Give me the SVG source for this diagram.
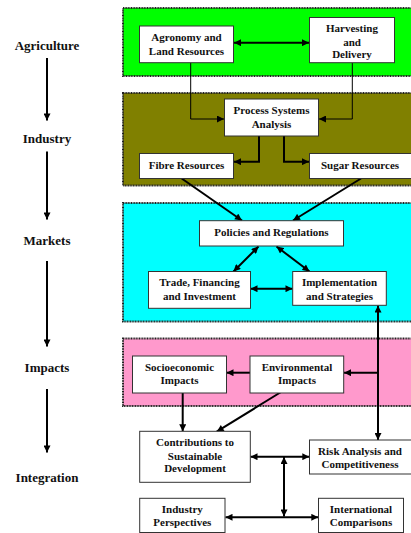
<svg xmlns="http://www.w3.org/2000/svg" width="411" height="533" viewBox="0 0 411 533">
<defs>
<marker id="ah" viewBox="0 0 10 10" refX="10" refY="5" markerWidth="8" markerHeight="7" markerUnits="userSpaceOnUse" orient="auto-start-reverse"><path d="M0,0 L10,5 L0,10 z" fill="#000"/></marker>
</defs>
<style>
.band{stroke:#222;stroke-width:2;stroke-dasharray:1 0.6}
.box{fill:#fff;stroke:#333;stroke-width:1}
text{font-family:"Liberation Serif","Times New Roman",serif;font-weight:bold;fill:#111}
.n{font-size:11px;text-anchor:middle}
.lab{font-size:13px;text-anchor:middle}
.c{fill:none;stroke:#000;stroke-width:2}
.t{fill:none;stroke:#000;stroke-width:1}
</style>
<rect width="411" height="533" fill="#fff"/>
<g id="bands">
<rect class="band" x="123" y="8" width="300" height="68" fill="#00ff00"/>
<rect class="band" x="123" y="93" width="300" height="92.5" fill="#808000"/>
<rect class="band" x="123" y="203" width="300" height="118.5" fill="#00ffff"/>
<rect class="band" x="123" y="338.5" width="300" height="67.5" fill="#ff99cc"/>
</g>
<g id="labels">
<text class="lab" x="47" y="50">Agriculture</text>
<text class="lab" x="47" y="143">Industry</text>
<text class="lab" x="47" y="244.5">Markets</text>
<text class="lab" x="47" y="372">Impacts</text>
<text class="lab" x="47" y="482">Integration</text>
</g>
<g id="connectors">
<line class="c" x1="47" y1="58" x2="47" y2="120.5" marker-end="url(#ah)"/>
<line class="c" x1="47" y1="151.5" x2="47" y2="219.5" marker-end="url(#ah)"/>
<line class="c" x1="47" y1="261" x2="47" y2="346.5" marker-end="url(#ah)"/>
<line class="c" x1="47" y1="389" x2="47" y2="452.5" marker-end="url(#ah)"/>
<line class="c" x1="234" y1="42.7" x2="309" y2="42.7" marker-start="url(#ah)" marker-end="url(#ah)"/>
<polyline class="t" points="190.7,63 190.7,119 224,119" marker-end="url(#ah)"/>
<polyline class="t" points="352.3,63 352.3,119 319,119" marker-end="url(#ah)"/>
<polyline class="c" points="259,136 259,161.7 234,161.7" marker-end="url(#ah)"/>
<polyline class="c" points="284,136 284,161.7 309,161.7" marker-end="url(#ah)"/>
<line class="c" x1="181.7" y1="178.5" x2="242" y2="220.5" marker-end="url(#ah)"/>
<line class="c" x1="361" y1="178.5" x2="293" y2="220.5" marker-end="url(#ah)"/>
<line class="c" x1="258.5" y1="246.5" x2="233.5" y2="271.5" marker-start="url(#ah)" marker-end="url(#ah)"/>
<line class="c" x1="276.5" y1="246.5" x2="309.5" y2="271.5" marker-start="url(#ah)" marker-end="url(#ah)"/>
<line class="c" x1="250.5" y1="288.7" x2="292.5" y2="288.7" marker-start="url(#ah)" marker-end="url(#ah)"/>
<line class="c" x1="378" y1="305.5" x2="378" y2="440" marker-start="url(#ah)" marker-end="url(#ah)"/>
<line class="c" x1="378" y1="372.7" x2="344" y2="372.7" marker-end="url(#ah)"/>
<line class="c" x1="251" y1="372.7" x2="226.5" y2="372.7" marker-end="url(#ah)"/>
<line class="c" x1="182.7" y1="393" x2="182.7" y2="431.3" marker-end="url(#ah)"/>
<line class="c" x1="284.3" y1="390" x2="216.7" y2="431.7" marker-end="url(#ah)"/>
<line class="c" x1="250.5" y1="456.7" x2="309.3" y2="456.7" marker-start="url(#ah)" marker-end="url(#ah)"/>
<line class="c" x1="284" y1="457" x2="284" y2="516.5" marker-start="url(#ah)" marker-end="url(#ah)"/>
<line class="c" x1="225.5" y1="517.3" x2="318.3" y2="517.3" marker-start="url(#ah)" marker-end="url(#ah)"/>
</g>
<g id="agronomy"><rect class="box" x="139.5" y="26" width="94" height="36.7"/><text class="n" x="186.5" y="40.5">Agronomy and</text><text class="n" x="186.5" y="54.5">Land Resources</text></g>
<g id="harvesting"><rect class="box" x="309.5" y="17.5" width="85" height="45.2"/><text class="n" x="352" y="32">Harvesting</text><text class="n" x="352" y="45.5">and</text><text class="n" x="352" y="58">Delivery</text></g>
<g id="process"><rect class="box" x="224.5" y="99" width="94" height="37"/><text class="n" x="271.5" y="114">Process Systems</text><text class="n" x="271.5" y="127.5">Analysis</text></g>
<g id="fibre"><rect class="box" x="139.5" y="153.5" width="94" height="25"/><text class="n" x="186.5" y="168.5">Fibre Resources</text></g>
<g id="sugar"><rect class="box" x="309.5" y="153.5" width="105" height="25"/><text class="n" x="360" y="168.5">Sugar Resources</text></g>
<g id="policies"><rect class="box" x="199.5" y="220.7" width="144" height="25.3"/><text class="n" x="271.5" y="235.5">Policies and Regulations</text></g>
<g id="trade"><rect class="box" x="148.5" y="271.5" width="102" height="36.8"/><text class="n" x="199.5" y="286">Trade, Financing</text><text class="n" x="199.5" y="299.5">and Investment</text></g>
<g id="implementation"><rect class="box" x="292.7" y="271.5" width="93.6" height="33.8"/><text class="n" x="339.5" y="286">Implementation</text><text class="n" x="339.5" y="299.5">and Strategies</text></g>
<g id="socioeconomic"><rect class="box" x="132.5" y="356" width="94" height="37"/><text class="n" x="179.5" y="370.5">Socioeconomic</text><text class="n" x="179.5" y="384">Impacts</text></g>
<g id="environmental"><rect class="box" x="250" y="356" width="93.7" height="37"/><text class="n" x="297" y="370.5">Environmental</text><text class="n" x="297" y="384">Impacts</text></g>
<g id="contributions"><rect class="box" x="139.7" y="431.3" width="110.6" height="51"/><text class="n" x="195" y="446">Contributions to</text><text class="n" x="195" y="459.5">Sustainable</text><text class="n" x="195" y="472">Development</text></g>
<g id="risk"><rect class="box" x="309.5" y="440" width="105" height="34"/><text class="n" x="360" y="454.5">Risk Analysis and</text><text class="n" x="360" y="468">Competitiveness</text></g>
<g id="industry"><rect class="box" x="139.7" y="498.3" width="85.3" height="34.2"/><text class="n" x="182.3" y="512.5">Industry</text><text class="n" x="182.3" y="526">Perspectives</text></g>
<g id="international"><rect class="box" x="318.5" y="498.3" width="85" height="34.2"/><text class="n" x="361" y="512.5">International</text><text class="n" x="361" y="526">Comparisons</text></g>
</svg>
